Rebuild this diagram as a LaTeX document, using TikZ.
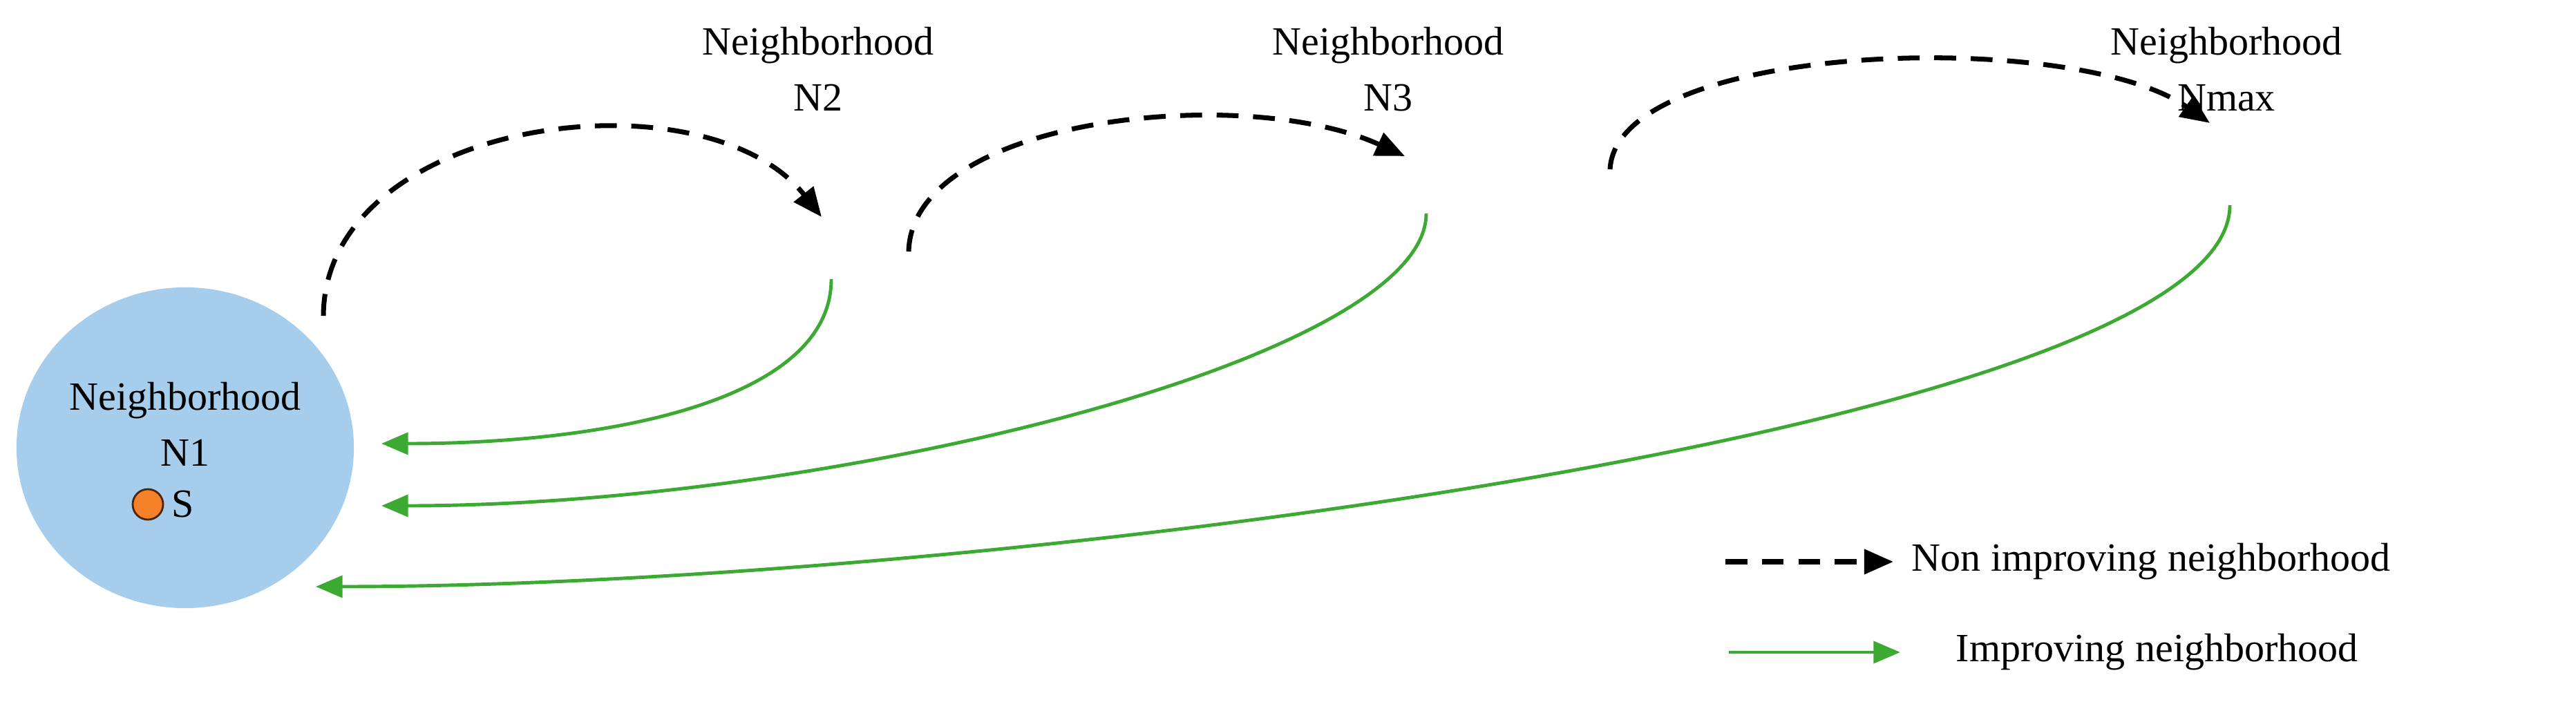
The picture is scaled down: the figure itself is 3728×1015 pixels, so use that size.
\documentclass[tikz,border=0pt]{standalone}
\usepackage{fontspec}
\setmainfont{Liberation Serif}
\usetikzlibrary{shapes.geometric,arrows.meta}
\definecolor{cblue}{RGB}{166,206,236}
\definecolor{cgreen}{RGB}{60,170,50}
\definecolor{corange}{RGB}{245,130,40}
\begin{document}
\begin{tikzpicture}[x=0.01cm,y=-0.01cm,
  lbl/.style={font=\fontsize{16.5}{19}\selectfont,align=center,inner sep=0},
  dsh/.style={black,line width=2pt,dash pattern=on 9pt off 6pt,-{Triangle[length=12pt,width=10pt]}},
  grn/.style={cgreen,line width=1.4pt,-{Triangle[length=11pt,width=9pt]}}]
\useasboundingbox (0,0) rectangle (3728,1015);
\node[ellipse,fill=cblue,minimum width=4.88cm,minimum height=4.64cm,inner sep=0] (n1) at (268,648) {};
\node[lbl] (t1) at (268,614) {Neighborhood\\[4pt]N1};
\node[circle,fill=corange,draw=black!70!corange,line width=0.8pt,minimum size=0.44cm,inner sep=0] (s) at (214,730) {};
\node[lbl,anchor=west] (st) at (248,730) {S};
\node[lbl] (t2) at (1184,100) {Neighborhood\\[4pt]N2};
\node[lbl] (t3) at (2009,100) {Neighborhood\\[4pt]N3};
\node[lbl] (tm) at (3222,100) {Neighborhood\\[4pt]Nmax};
\coordinate (d1s) at (468,457); \coordinate (d1e) at (1189,314);
\coordinate (d2s) at (1315,364); \coordinate (d2e) at (2033,226);
\coordinate (d3s) at (2330,245); \coordinate (d3e) at (3198,178);
\coordinate (g1s) at (1203,404); \coordinate (g1e) at (552,642);
\coordinate (g2s) at (2064,309); \coordinate (g2e) at (552,732);
\coordinate (g3s) at (3227,297); \coordinate (g3e) at (457,849);
\draw[dsh] (d1s) .. controls (470,170) and (1020,100) .. (d1e);
\draw[dsh] (d2s) .. controls (1320,170) and (1800,120) .. (d2e);
\draw[dsh] (d3s) .. controls (2340,60) and (3000,40) .. (d3e);
\draw[grn] (g1s) .. controls (1203,580) and (880,642) .. (g1e);
\draw[grn] (g2s) .. controls (2064,520) and (1200,732) .. (g2e);
\draw[grn] (g3s) .. controls (3227,620) and (1400,849) .. (g3e);
\coordinate (l1s) at (2497,813); \coordinate (l1e) at (2740,813);
\coordinate (l2s) at (2502,944); \coordinate (l2e) at (2750,944);
\draw[dsh] (l1s) -- (l1e);
\draw[grn] (l2s) -- (l2e);
\node[lbl,anchor=west] (lt1) at (2766,813) {Non improving neighborhood};
\node[lbl,anchor=west] (lt2) at (2830,944) {Improving neighborhood};
\end{tikzpicture}
\end{document}
